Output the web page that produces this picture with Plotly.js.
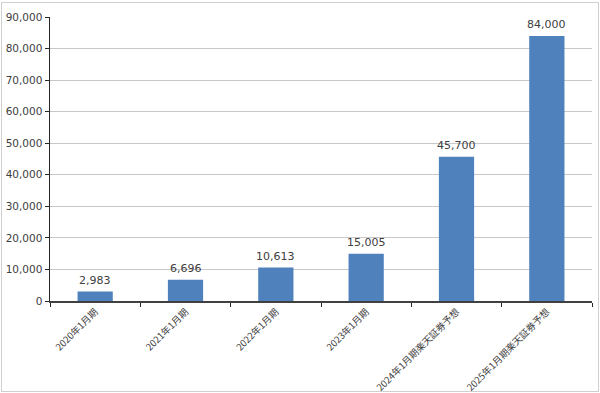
<!DOCTYPE html>
<html><head><meta charset="utf-8">
<script src="https://cdn.plot.ly/plotly-3.0.1.min.js"></script>
<style>
html,body{margin:0;padding:0;background:#fff;}
#frame{position:absolute;left:1px;top:2px;width:596px;height:388px;border:1px solid #d0d0d0;}
#chart{position:absolute;left:0;top:0;width:600px;height:393px;}
</style></head><body>
<div id="frame"></div>
<div id="chart"></div>
<script>
const categories = ["2020年1月期","2021年1月期","2022年1月期","2023年1月期","2024年1月期楽天証券予想","2025年1月期楽天証券予想"];
const values = [2983, 6696, 10613, 15005, 45700, 84000];
const valueLabels = ["2,983","6,696","10,613","15,005","45,700","84,000"];
const yTicks = [0,10000,20000,30000,40000,50000,60000,70000,80000,90000];
const yTickLabels = ["0","10,000","20,000","30,000","40,000","50,000","60,000","70,000","80,000","90,000"];

const trace = {
  type:'bar', x:categories, y:values,
  marker:{color:'#4F81BD'}, hoverinfo:'none'
};
const annotations = categories.map((c,i)=>({
  x:c, y:values[i], xref:'x', yref:'y', text:valueLabels[i], showarrow:false,
  yanchor:'bottom', yshift:3,
  font:{family:'DejaVu Sans, Verdana, sans-serif', size:11, color:'#404040'}
}));
const layout = {
  width:600, height:393,
  margin:{l:50, r:8, t:17, b:92},
  paper_bgcolor:'rgba(0,0,0,0)', plot_bgcolor:'rgba(0,0,0,0)',
  bargap:0.61, showlegend:false, annotations:annotations,
  xaxis:{type:'category', tickangle:-45, tickson:'boundaries', ticks:'outside', ticklen:4, tickcolor:'#262626',
    showline:true, linecolor:'#404040', linewidth:1.5,
    tickfont:{family:'Noto Sans CJK JP, sans-serif', size:9.5, color:'#404040'}, showgrid:false, automargin:false},
  yaxis:{range:[0,90000], tickvals:yTicks, ticktext:yTickLabels, ticks:'outside', ticklen:4, tickcolor:'#262626',
    showline:true, linecolor:'#262626', linewidth:1.5, showgrid:true, gridcolor:'#c8c8c8', gridwidth:1, zeroline:false,
    tickfont:{family:'DejaVu Sans, Verdana, sans-serif', size:10.5, color:'#404040'}, automargin:false}
};
Plotly.newPlot('chart',[trace],layout,{staticPlot:true});
</script></body></html>
